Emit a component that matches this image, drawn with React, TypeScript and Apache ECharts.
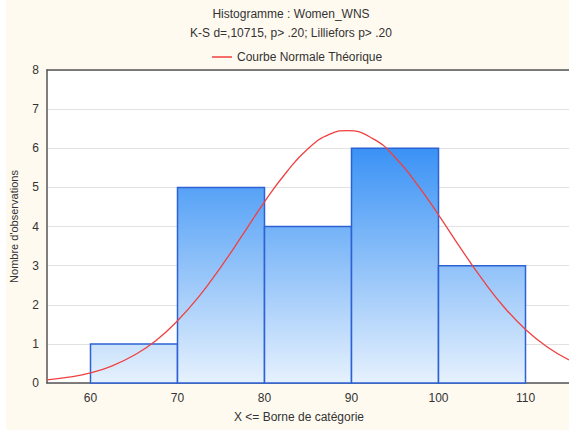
import React, { useEffect, useRef } from "react";
import * as echarts from "echarts";

const binStarts = [60, 70, 80, 90, 100];
const binEnds = [70, 80, 90, 100, 110];
const counts = [1, 5, 4, 6, 3];
const curveX = [55, 57.5, 60, 62.5, 65, 67.5, 70, 72.5, 75, 77.5, 80, 82.5, 85, 87.5, 89.5, 92.5, 95, 97.5, 100, 102.5, 105, 107.5, 110, 112.5, 115];
const curveY = [0.08, 0.15, 0.26, 0.44, 0.71, 1.08, 1.59, 2.22, 2.97, 3.79, 4.63, 5.38, 5.99, 6.36, 6.45, 6.24, 5.77, 5.09, 4.3, 3.46, 2.66, 1.95, 1.37, 0.92, 0.59];
const xTicks = [60, 70, 80, 90, 100, 110];

const FONT = "'Liberation Sans', Arial, sans-serif";

export default function App() {
  const ref = useRef<HTMLDivElement>(null);
  useEffect(() => {
    document.body.style.margin = "0";
    const chart = echarts.init(ref.current!, undefined, { renderer: "svg" });
    const barData = binStarts.map((s, i) => [s, binEnds[i], counts[i]]);
    const lineData = curveX.map((x, i) => [x, curveY[i]]);
    chart.setOption({
      animation: false,
      backgroundColor: "#fffaf0",
      textStyle: { fontFamily: FONT },
      graphic: [
        { type: "rect", left: 0, top: 0, shape: { width: 6, height: 430 }, style: { fill: "#ffffff" }, silent: true },
        { type: "text", x: 291, y: 14, style: { text: "Histogramme : Women_WNS", fill: "#333333", font: "12px " + FONT, textAlign: "center", textVerticalAlign: "middle" } },
        { type: "text", x: 291, y: 33, style: { text: "K-S d=,10715, p> .20; Lilliefors p> .20", fill: "#333333", font: "12px " + FONT, textAlign: "center", textVerticalAlign: "middle" } },
        { type: "text", x: 299, y: 417, style: { text: "X <= Borne de catégorie", fill: "#333333", font: "12px " + FONT, textAlign: "center", textVerticalAlign: "middle" } },
      ],
      legend: {
        show: true,
        left: 207,
        top: 46,
        itemWidth: 20,
        itemHeight: 10,
        itemGap: 6,
        textStyle: { color: "#333333", fontSize: 12, fontFamily: FONT },
        data: [{ name: "Courbe Normale Théorique", icon: "path://M0,5L20,5L20,6.5L0,6.5Z", itemStyle: { color: "#f04040" } }],
      },
      grid: { left: 43, top: 70, right: 0, bottom: 47, containLabel: false, show: true, backgroundColor: "#ffffff", borderWidth: 0 },
      xAxis: [
        {
          type: "value",
          min: 55,
          max: 115,
          position: "bottom",
          axisLine: { show: true, onZero: false, lineStyle: { color: "#555555", width: 1.5 } },
          axisTick: { show: false },
          splitLine: { show: false },
          axisLabel: { customValues: xTicks, color: "#333333", fontSize: 12, margin: 9, fontFamily: FONT },
        },
        {
          type: "value",
          min: 55,
          max: 115,
          position: "top",
          axisLine: { show: true, onZero: false, lineStyle: { color: "#555555", width: 1.5 } },
          axisTick: { show: false },
          splitLine: { show: false },
          axisLabel: { show: false },
        },
      ],
      yAxis: {
        type: "value",
        min: 0,
        max: 8,
        interval: 1,
        name: "Nombre d'observations",
        nameLocation: "middle",
        nameGap: 28,
        nameTextStyle: { color: "#333333", fontSize: 11, fontFamily: FONT },
        axisLine: { show: true, lineStyle: { color: "#555555", width: 1.5 } },
        axisTick: { show: false },
        splitLine: { show: true, lineStyle: { color: "#e2e2e2", width: 1.2 } },
        axisLabel: { color: "#333333", fontSize: 12, margin: 8, fontFamily: FONT },
      },
      series: [
        {
          type: "custom",
          name: "hist",
          data: barData,
          encode: { x: [0, 1], y: 2 },
          z: 2,
          renderItem: (params: any, api: any) => {
            const x0 = api.value(0);
            const x1 = api.value(1);
            const c = api.value(2);
            const pTop = api.coord([x0, c]);
            const pBot = api.coord([x1, 0]);
            const gTop = api.coord([x0, 6])[1];
            const gBot = api.coord([x0, 0])[1];
            return {
              type: "rect",
              shape: { x: pTop[0], y: pTop[1], width: pBot[0] - pTop[0], height: pBot[1] - pTop[1] },
              style: {
                fill: new echarts.graphic.LinearGradient(0, gTop, 0, gBot, [
                  { offset: 0, color: "#3a92f5" },
                  { offset: 1, color: "#e6f1fd" },
                ], true),
                stroke: "#2c62d4",
                lineWidth: 1.5,
              },
            };
          },
        },
        {
          type: "line",
          name: "Courbe Normale Théorique",
          data: lineData,
          smooth: true,
          showSymbol: false,
          symbol: "none",
          z: 3,
          lineStyle: { color: "#f04040", width: 1.3 },
          itemStyle: { color: "#f04040" },
        },
      ],
    });
    return () => chart.dispose();
  }, []);
  return <div ref={ref} style={{ width: 569, height: 430 }} />;
}
